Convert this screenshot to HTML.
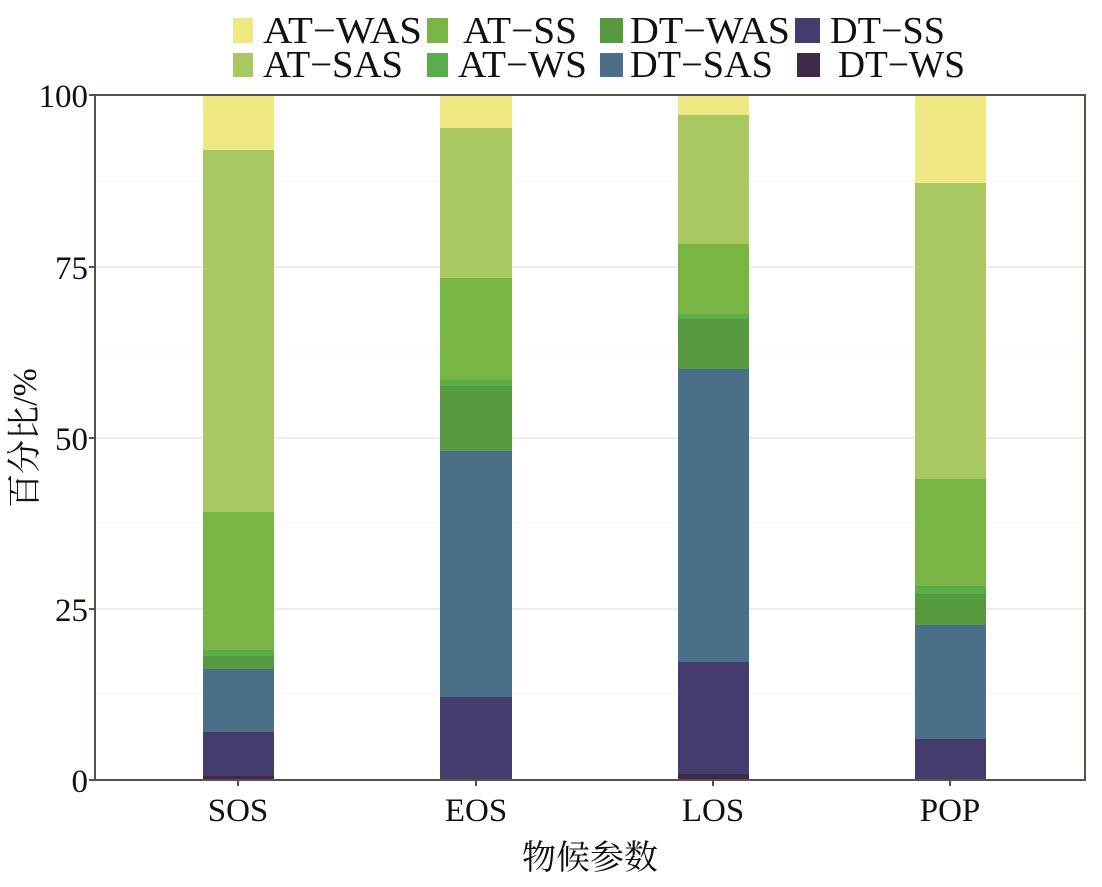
<!DOCTYPE html><html><head><meta charset="utf-8"><style>body{margin:0;background:#fff}</style></head><body>
<svg width="1102" height="882" xmlns="http://www.w3.org/2000/svg" font-family="Liberation Serif, Noto Serif CJK SC, serif">
<rect width="1102" height="882" fill="#fff"/>
<g stroke="#ececec" stroke-width="2"><line x1="95" x2="1085" y1="267" y2="267"/><line x1="95" x2="1085" y1="438" y2="438"/><line x1="95" x2="1085" y1="609" y2="609"/></g>
<g stroke="#f6f6f6" stroke-width="1"><line x1="95" x2="1085" y1="181" y2="181"/><line x1="95" x2="1085" y1="352" y2="352"/><line x1="95" x2="1085" y1="523" y2="523"/><line x1="95" x2="1085" y1="694" y2="694"/></g>
<g>
<rect x="203" y="95" width="71" height="55" fill="#f0e882"/>
<rect x="203" y="150" width="71" height="362" fill="#a8c862"/>
<rect x="203" y="512" width="71" height="138" fill="#78b543"/>
<rect x="203" y="650" width="71" height="6" fill="#5aad4c"/>
<rect x="203" y="656" width="71" height="13" fill="#559a3e"/>
<rect x="203" y="669" width="71" height="63" fill="#4a6f88"/>
<rect x="203" y="732" width="71" height="44" fill="#433c6d"/>
<rect x="203" y="776" width="71" height="4" fill="#3e2a48"/>
<rect x="440" y="95" width="72" height="33" fill="#f0e882"/>
<rect x="440" y="128" width="72" height="150" fill="#a8c862"/>
<rect x="440" y="278" width="72" height="102" fill="#78b543"/>
<rect x="440" y="380" width="72" height="6" fill="#5aad4c"/>
<rect x="440" y="386" width="72" height="65" fill="#559a3e"/>
<rect x="440" y="451" width="72" height="246" fill="#4a6f88"/>
<rect x="440" y="697" width="72" height="82" fill="#433c6d"/>
<rect x="440" y="779" width="72" height="1" fill="#3e2a48"/>
<rect x="678" y="95" width="71" height="20" fill="#f0e882"/>
<rect x="678" y="115" width="71" height="129" fill="#a8c862"/>
<rect x="678" y="244" width="71" height="70" fill="#78b543"/>
<rect x="678" y="314" width="71" height="5" fill="#5aad4c"/>
<rect x="678" y="319" width="71" height="50" fill="#559a3e"/>
<rect x="678" y="369" width="71" height="293" fill="#4a6f88"/>
<rect x="678" y="662" width="71" height="112" fill="#433c6d"/>
<rect x="678" y="774" width="71" height="6" fill="#3e2a48"/>
<rect x="915" y="95" width="71" height="88" fill="#f0e882"/>
<rect x="915" y="183" width="71" height="296" fill="#a8c862"/>
<rect x="915" y="479" width="71" height="107" fill="#78b543"/>
<rect x="915" y="586" width="71" height="8" fill="#5aad4c"/>
<rect x="915" y="594" width="71" height="31" fill="#559a3e"/>
<rect x="915" y="625" width="71" height="114" fill="#4a6f88"/>
<rect x="915" y="739" width="71" height="41" fill="#433c6d"/>
</g>
<rect x="95" y="95" width="990" height="685" fill="none" stroke="#5a5048" stroke-width="2"/>
<g stroke="#5a5048" stroke-width="2"><line x1="238" x2="238" y1="780" y2="786"/><line x1="476" x2="476" y1="780" y2="786"/><line x1="713" x2="713" y1="780" y2="786"/><line x1="950" x2="950" y1="780" y2="786"/>
<line x1="89" x2="95" y1="95" y2="95"/><line x1="89" x2="95" y1="267" y2="267"/><line x1="89" x2="95" y1="438" y2="438"/><line x1="89" x2="95" y1="609" y2="609"/><line x1="89" x2="95" y1="780" y2="780"/></g>
<g font-size="33" fill="#111" text-anchor="end"><text x="88" y="107">100</text><text x="88" y="279">75</text><text x="88" y="450">50</text><text x="88" y="621">25</text><text x="88" y="792">0</text></g>
<g font-size="33" fill="#111" text-anchor="middle"><text x="238" y="821">SOS</text><text x="476" y="821">EOS</text><text x="713" y="821">LOS</text><text x="950" y="821">POP</text>
<text x="590" y="869" font-size="34">物候参数</text></g>
<text transform="translate(36,438) rotate(-90)" font-size="34" text-anchor="middle" fill="#111">百分比/%</text>
<g font-size="38" fill="#111">
<rect x="233" y="18" width="20" height="25" fill="#f0e882"/><text x="263" y="43" textLength="159" lengthAdjust="spacingAndGlyphs">AT−WAS</text>
<rect x="427" y="18" width="21" height="25" fill="#78b543"/><text x="463" y="43" textLength="114" lengthAdjust="spacingAndGlyphs">AT−SS</text>
<rect x="600" y="18" width="23" height="25" fill="#559a3e"/><text x="630" y="43" textLength="160" lengthAdjust="spacingAndGlyphs">DT−WAS</text>
<rect x="795" y="18" width="25" height="25" fill="#433c6d"/><text x="830" y="43" textLength="115" lengthAdjust="spacingAndGlyphs">DT−SS</text>
<rect x="233" y="53" width="20" height="24" fill="#a8c862"/><text x="263" y="77" textLength="140" lengthAdjust="spacingAndGlyphs">AT−SAS</text>
<rect x="427" y="53" width="21" height="24" fill="#5aad4c"/><text x="458" y="77" textLength="129" lengthAdjust="spacingAndGlyphs">AT−WS</text>
<rect x="600" y="53" width="23" height="24" fill="#4a6f88"/><text x="630" y="77" textLength="143" lengthAdjust="spacingAndGlyphs">DT−SAS</text>
<rect x="797" y="53" width="23" height="24" fill="#3e2a48"/><text x="838" y="77" textLength="127" lengthAdjust="spacingAndGlyphs">DT−WS</text>
</g>
</svg></body></html>
